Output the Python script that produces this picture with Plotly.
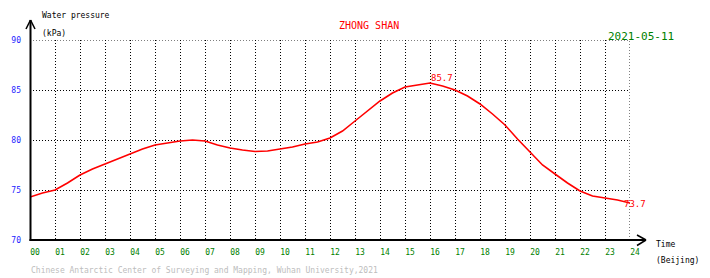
import plotly.graph_objects as go

# ---- data ----
hours = [0, 0.5, 1, 1.5, 2, 2.5, 3, 3.5, 4, 4.5, 5, 5.5, 6, 6.5, 7, 7.5, 8, 8.5,
         9, 9.5, 10, 10.5, 11, 11.5, 12, 12.5, 13, 13.5, 14, 14.5, 15, 15.5, 16,
         16.5, 17, 17.5, 18, 18.5, 19, 19.5, 20, 20.5, 21, 21.5, 22, 22.5, 23,
         23.5, 24]
pressure = [74.3, 74.7, 75.0, 75.7, 76.5, 77.1, 77.6, 78.1, 78.6, 79.1, 79.5, 79.7,
            79.9, 80.0, 79.9, 79.5, 79.2, 79.0, 78.85, 78.9, 79.1, 79.3, 79.6, 79.8,
            80.2, 80.9, 81.9, 82.9, 83.9, 84.7, 85.3, 85.5, 85.7, 85.4, 85.0, 84.4,
            83.6, 82.6, 81.5, 80.1, 78.8, 77.5, 76.6, 75.7, 74.9, 74.4, 74.2, 74.0,
            73.7]
x_ticks = list(range(0, 25))
x_ticktext = [f"{h:02d}" for h in x_ticks]
y_ticks = [70, 75, 80, 85, 90]
y_ticktext = [str(v) for v in y_ticks]

station = "ZHONG SHAN"
date_text = "2021-05-11"
footer = "Chinese Antarctic Center of Surveying and Mapping, Wuhan University,2021"

MONO = "DejaVu Sans Mono"
GRID_DASH = "1px,2px"

fig = go.Figure()
fig.add_trace(go.Scatter(x=hours, y=pressure, mode="lines",
                         line=dict(color="#ff0000", width=1.6),
                         hoverinfo="x+y", showlegend=False))

imax = max(range(len(pressure)), key=lambda i: pressure[i])

# helper: pixel -> paper
def px(x):
    return (x - 30) / 600.0

def py(y):
    return (240 - y) / 200.0

annotations = [
    dict(text="Water pressure", x=px(40), y=py(15.5), xref="paper", yref="paper",
         xanchor="left", yanchor="middle", showarrow=False,
         font=dict(family=MONO, size=8, color="black")),
    dict(text="(kPa)", x=px(40), y=py(34), xref="paper", yref="paper",
         xanchor="left", yanchor="middle", showarrow=False,
         font=dict(family=MONO, size=8, color="black")),
    dict(text=station, x=px(369), y=py(25), xref="paper", yref="paper",
         xanchor="center", yanchor="middle", showarrow=False,
         font=dict(family=MONO, size=10, color="#ff0000")),
    dict(text=date_text, x=px(641), y=py(36), xref="paper", yref="paper",
         xanchor="center", yanchor="middle", showarrow=False,
         font=dict(family=MONO, size=11, color="#008000")),
    dict(text="Time", x=px(654), y=py(244), xref="paper", yref="paper",
         xanchor="left", yanchor="middle", showarrow=False,
         font=dict(family=MONO, size=8, color="black")),
    dict(text="(Beijing)", x=px(654), y=py(260), xref="paper", yref="paper",
         xanchor="left", yanchor="middle", showarrow=False,
         font=dict(family=MONO, size=8, color="black")),
    dict(text=footer, x=px(29), y=py(270), xref="paper", yref="paper",
         xanchor="left", yanchor="middle", showarrow=False,
         font=dict(family=MONO, size=8, color="#bdbdbd")),
    dict(text=f"{pressure[imax]:.1f}", x=hours[imax], y=pressure[imax],
         xref="x", yref="y", xanchor="left", yanchor="bottom", showarrow=False,
         xshift=-1, yshift=-2,
         font=dict(family=MONO, size=9, color="#ff0000")),
    dict(text=f"{pressure[-1]:.1f}", x=hours[-1], y=pressure[-1],
         xref="x", yref="y", xanchor="center", yanchor="middle", showarrow=False,
         xshift=5, yshift=-1,
         font=dict(family=MONO, size=9, color="#ff0000")),
]

axis_line = dict(color="black", width=2)
grid_line = dict(color="black", width=1, dash=GRID_DASH)
shapes = [
    # edge gridlines (top at 90, right at 24)
    dict(type="line", xref="x", yref="y", x0=0, x1=24, y0=90, y1=90, line=grid_line, layer="below"),
    dict(type="line", xref="x", yref="y", x0=24, x1=24, y0=70, y1=90, line=grid_line, layer="below"),
    # y axis with arrow
    dict(type="line", xref="paper", yref="paper", x0=px(30.5), x1=px(30.5), y0=py(241), y1=py(20), line=axis_line),
    dict(type="line", xref="paper", yref="paper", x0=px(26), x1=px(30.5), y0=py(29), y1=py(20), line=dict(color="black", width=1.5)),
    dict(type="line", xref="paper", yref="paper", x0=px(35), x1=px(30.5), y0=py(29), y1=py(20), line=dict(color="black", width=1.5)),
    # x axis with arrow
    dict(type="line", xref="paper", yref="paper", x0=px(29.5), x1=px(646), y0=py(240), y1=py(240), line=axis_line),
    dict(type="line", xref="paper", yref="paper", x0=px(637), x1=px(646), y0=py(235), y1=py(240), line=dict(color="black", width=1.5)),
    dict(type="line", xref="paper", yref="paper", x0=px(637), x1=px(646), y0=py(245.5), y1=py(240), line=dict(color="black", width=1.5)),
]

fig.update_layout(
    width=710, height=278,
    margin=dict(l=30, r=80, t=40, b=38),
    paper_bgcolor="white", plot_bgcolor="white",
    annotations=annotations, shapes=shapes,
    showlegend=False,
    xaxis=dict(range=[0, 24], tickvals=x_ticks, ticktext=x_ticktext,
               showgrid=True, gridcolor="black", gridwidth=1, griddash=GRID_DASH,
               zeroline=False, showline=False, ticks="",
               ticklabelstandoff=6, ticklabelshift=5,
               tickfont=dict(family=MONO, size=8, color="#008000")),
    yaxis=dict(range=[70, 90], tickvals=y_ticks, ticktext=y_ticktext,
               showgrid=True, gridcolor="black", gridwidth=1, griddash=GRID_DASH,
               zeroline=False, showline=False, ticks="",
               ticklabelstandoff=8,
               tickfont=dict(family=MONO, size=8, color="#1c1cff")),
)

fig.write_html("out.html")
